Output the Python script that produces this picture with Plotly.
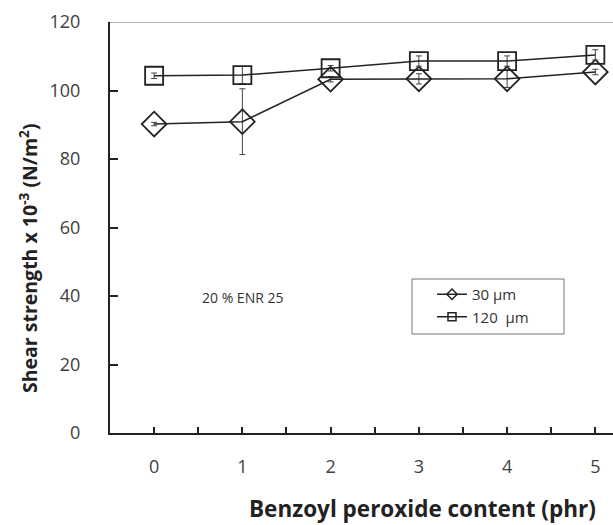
import plotly.graph_objects as go

bpo = [0, 1, 2, 3, 4, 5]
s30 = [90.2, 90.9, 103.3, 103.4, 103.4, 105.4]
e30 = [0.5, 9.6, 0.8, 1.5, 2.5, 0.8]
s120 = [104.3, 104.5, 106.5, 108.6, 108.6, 110.4]
e120 = [0.8, 2.5, 0.8, 1.5, 1.5, 1.5]
yticks = [0, 20, 40, 60, 80, 100, 120]

font = "Open Sans"
fig = go.Figure()

fig.add_trace(go.Scatter(
    x=bpo, y=s30, mode="lines+markers", name="30 µm", showlegend=False,
    line=dict(color="#222", width=1.5),
    marker=dict(symbol="diamond-open", size=19, color="#222", line=dict(width=1.8)),
    error_y=dict(type="data", array=e30, color="#444", thickness=1, width=3),
))
fig.add_trace(go.Scatter(
    x=bpo, y=s120, mode="lines+markers", name="120  µm", showlegend=False,
    line=dict(color="#222", width=1.5),
    marker=dict(symbol="square-open", size=18, color="#222", line=dict(width=1.8)),
    error_y=dict(type="data", array=e120, color="#444", thickness=1, width=3),
))
# legend-only entries with small markers
fig.add_trace(go.Scatter(
    x=[None], y=[None], mode="lines+markers", name="30 µm",
    line=dict(color="#222", width=1.5),
    marker=dict(symbol="diamond-open", size=8, color="#222", line=dict(width=1.5)),
))
fig.add_trace(go.Scatter(
    x=[None], y=[None], mode="lines+markers", name="120  µm",
    line=dict(color="#222", width=1.5),
    marker=dict(symbol="square-open", size=8, color="#222", line=dict(width=1.5)),
))

L, T, B = 110, 22, 92
PW, PH = 613 - L, 525 - T - B

def px(xp):
    return (xp - L) / PW

def py(yp):
    return (525 - B - yp) / PH

fig.update_layout(
    width=613, height=525,
    margin=dict(l=L, r=0, t=T, b=B, autoexpand=False),
    paper_bgcolor="white", plot_bgcolor="white",
    font=dict(family=font, color="#333"),
    showlegend=True,
    legend=dict(
        x=px(432), y=py(278), xanchor="left", yanchor="top",
        borderwidth=0, bgcolor="rgba(0,0,0,0)",
        font=dict(family=font, size=15, color="#333"),
        itemwidth=30, tracegroupgap=0,
    ),
    xaxis=dict(
        range=[-0.5, 5.2], tickvals=bpo, ticktext=[str(v) for v in bpo],
        showline=True, linecolor="#222", linewidth=2, showgrid=False, zeroline=False,
        ticks="inside", ticklen=6, tickcolor="#222", tickwidth=1.5,
        minor=dict(dtick=0.5, tick0=-0.5, ticks="inside", ticklen=6, tickcolor="#222", tickwidth=1.5),
        tickfont=dict(family=font, size=18, color="#404040"), ticklabelstandoff=16,
    ),
    yaxis=dict(
        range=[0, 120], tickvals=yticks,
        showline=True, linecolor="#222", linewidth=2, showgrid=False, zeroline=False,
        ticks="inside", ticklen=8, tickcolor="#222", tickwidth=1.5,
        tickfont=dict(family=font, size=18, color="#404040"), ticklabelstandoff=24,
        automargin=False,
    ),
    shapes=[
        dict(type="line", xref="paper", yref="y", x0=0, x1=1, y0=120, y1=120,
             line=dict(color="#999", width=1.5)),
        dict(type="rect", xref="paper", yref="paper", x0=px(412), x1=px(564),
             y0=py(334), y1=py(279), line=dict(color="#777", width=1)),
    ],
    annotations=[
        dict(text="20 % ENR 25", x=1.0, y=39.7, xref="x", yref="y", showarrow=False,
             font=dict(family=font, size=14, color="#333")),
        dict(text="<b>Benzoyl peroxide content (phr)</b>", x=px(247), y=py(508),
             xref="paper", yref="paper", showarrow=False, xanchor="left", yanchor="middle",
             font=dict(family=font, size=22.5, color="#222")),
        dict(text="<b>Shear strength x 10<sup>-3</sup> (N/m<sup>2</sup>)</b>",
             x=px(28), y=py(258), xref="paper", yref="paper", showarrow=False,
             textangle=-90, xanchor="center", yanchor="middle",
             font=dict(family=font, size=19.5, color="#222")),
    ],
)
fig.write_html("out.html", config={"displayModeBar": False},
               post_script="document.body.style.margin='0';")
